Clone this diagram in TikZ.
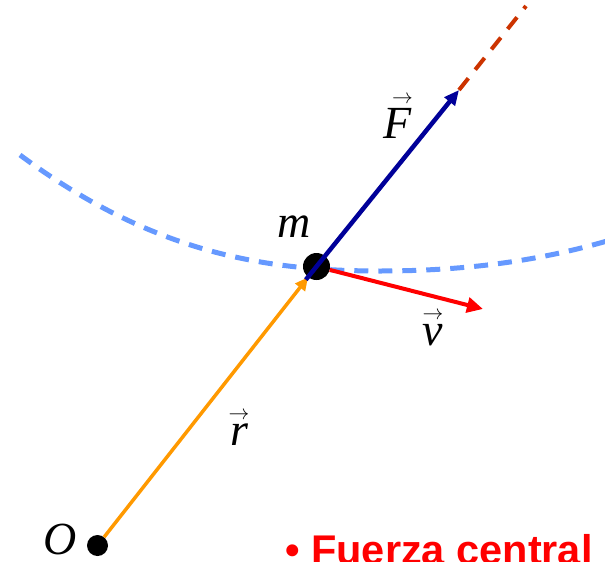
\documentclass[tikz,border=0pt]{standalone}
\usepackage{fontspec}
\setmainfont{Liberation Serif}
\newfontfamily\arialfont{Liberation Sans}
\usetikzlibrary{arrows.meta,calc}
\definecolor{orng}{HTML}{FF9900}
\definecolor{navy}{HTML}{000099}
\definecolor{vred}{HTML}{FF0000}
\definecolor{brownred}{HTML}{CC3300}
\definecolor{orbitblue}{HTML}{6699FF}
\newcommand\vecl[2][0pt]{\vbox{\offinterlineskip\halign{\hfil##\hfil\cr
  \kern#1{\fontsize{20}{20}\selectfont$\rightarrow$}\cr\noalign{\kern4pt}#2\cr}}}
\tikzset{
  dot/.style={circle, fill=black, draw=none, inner sep=0pt},
  orbit/.style={orbitblue, line width=5pt, dash pattern=on 14pt off 10pt},
  rvec/.style={orng, line width=3.5pt, -{Triangle[length=13pt,width=12pt]}},
  vvec/.style={vred, line width=4pt, -{Triangle[length=16pt,width=15pt]}},
  Fvec/.style={navy, line width=4.5pt, -{Triangle[length=15pt,width=13pt]}},
  ext/.style={brownred, line width=4pt, dash pattern=on 15pt off 11pt},
  lbl/.style={inner sep=0pt, text depth=0pt, font=\fontsize{46}{50}\selectfont\itshape},
  caption/.style={inner sep=0pt, text=vred, font=\arialfont\bfseries\fontsize{41.5}{45}\selectfont}
}
\begin{document}
\begin{tikzpicture}[x=1pt,y=-1pt]
\useasboundingbox (0,0) rectangle (605,562);
% orbit
\draw[orbit] (20,155) .. controls (150,251) and (260,271) .. (380,271)
  .. controls (460,271) and (535,262) .. (607,241);
% points
\node[dot, minimum size=21pt] (O) at (97.5,545.5) {};
\node[dot, minimum size=27pt] (m) at (316.5,266.5) {};
\coordinate (Ftip) at (459,90);
\coordinate (Fend) at (526,6);
\coordinate (vtip) at (483,309);
% vectors
\draw[rvec] (O) -- (m);
\draw[vvec] (m) -- (vtip);
\draw[ext] (Ftip) -- (Fend);
\draw[Fvec] ($(m.center)!-17pt!(Ftip)$) -- (Ftip);
% labels
\node[lbl, anchor=base] (Flab) at (398,138) {\vecl[9pt]{F}};
\node[lbl, anchor=base] (mlab) at (294,237) {m};
\node[lbl, anchor=base] (Olab) at (60,554) {O};
\node[lbl, anchor=base] (rlab) at (239,445) {\vecl{r}};
\node[lbl, anchor=base] (vlab) at (433,345) {\vecl{v}};
\node[caption, anchor=base west] (cap) at (285,564) {•~Fuerza central};
\end{tikzpicture}
\end{document}
